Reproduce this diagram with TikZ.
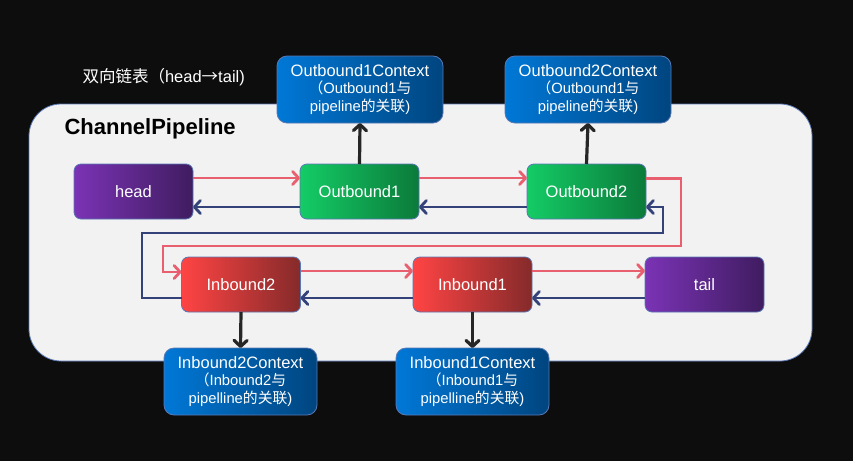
\documentclass[tikz,border=0pt]{standalone}
\usepackage{fontspec}
\setmainfont{Liberation Sans}
\newfontfamily\cjk{Noto Sans CJK SC}
\usetikzlibrary{arrows.meta}
\definecolor{bgdark}{HTML}{0D0D0D}
\definecolor{panel}{HTML}{F2F2F2}
\definecolor{edge}{HTML}{5A78B4}
\definecolor{purpL}{HTML}{7B33B5}
\definecolor{purpR}{HTML}{3F1C60}
\definecolor{grnL}{HTML}{14CC66}
\definecolor{grnR}{HTML}{0B7A3A}
\definecolor{redL}{HTML}{FF4444}
\definecolor{redR}{HTML}{852A2A}
\definecolor{bluL}{HTML}{0078D7}
\definecolor{bluR}{HTML}{00457F}
\definecolor{pinkline}{HTML}{E8606F}
\definecolor{navyline}{HTML}{34427A}
\definecolor{darkline}{HTML}{262626}
\newcommand{\zh}[1]{{\cjk #1}}
\tikzset{
  box/.style={draw=edge, line width=0.8pt, rounded corners=7pt, inner sep=0pt, outer sep=0pt,
    text=white, align=center, font=\fontsize{16.5}{18}\selectfont},
  pbox/.style={box, left color=purpL, right color=purpR, minimum width=119pt, minimum height=55pt},
  gbox/.style={box, left color=grnL, right color=grnR, minimum width=119pt, minimum height=55pt},
  rbox/.style={box, left color=redL, right color=redR, minimum width=119pt, minimum height=55pt},
  ctxbox/.style={box, left color=bluL, right color=bluR, minimum height=67pt, rounded corners=10pt},
  tip/.style={-{Straight Barb[length=6pt,width=13pt,line cap=round,line join=round]}},
  pinkarr/.style={tip, draw=pinkline, line width=2.8pt},
  navyarr/.style={tip, draw=navyline, line width=2.8pt},
  darkarr/.style={tip, draw=darkline, line width=3.2pt},
}
\newcommand{\ctx}[3]{\fontsize{16.5}{17.5}\selectfont #1\\[-1pt]\fontsize{14.8}{17.5}\selectfont\zh{（}#2\zh{与}\\\fontsize{14.8}{17.5}\selectfont #3\zh{的关联})}
\begin{document}
\begin{tikzpicture}[x=1pt,y=-1pt]
\fill[bgdark] (0,0) rectangle (853,461);
\useasboundingbox (0,0) rectangle (853,461);
\filldraw[fill=panel, draw=edge, line width=0.8pt, rounded corners=32pt] (29,104) rectangle (812,361);
\node[text=white, font=\fontsize{16.5}{18}\selectfont, anchor=west] (title) at (79,77) {\zh{双向链表（}head\zh{→}tail)};
\node[text=black, font=\fontsize{22}{24}\selectfont\bfseries, anchor=west] (cp) at (61,129) {ChannelPipeline};

\node[pbox] (head) at (133.5,191.5) {head};
\node[gbox] (ob1) at (359.5,191.5) {Outbound1};
\node[gbox] (ob2) at (586.5,191.5) {Outbound2};
\node[rbox] (ib2) at (241,284.5) {Inbound2};
\node[rbox] (ib1) at (472.5,284.5) {Inbound1};
\node[pbox] (tail) at (704.5,284.5) {tail};

\node[ctxbox, minimum width=166pt] (oc1) at (360,89.5) {\ctx{Outbound1Context}{Outbound1}{pipeline}};
\node[ctxbox, minimum width=166pt] (oc2) at (588,89.5) {\ctx{Outbound2Context}{Outbound1}{pipeline}};
\node[ctxbox, minimum width=153pt] (ic2) at (240.5,381.5) {\ctx{Inbound2Context}{Inbound2}{pipelline}};
\node[ctxbox, minimum width=153pt] (ic1) at (472.5,381.5) {\ctx{Inbound1Context}{Inbound1}{pipelline}};

\coordinate (pr) at (681,246);
\coordinate (pl) at (163,246);
\coordinate (bl) at (142,233);
\coordinate (br) at (663,233);

\draw[pinkarr] ([yshift=13.5pt]head.east) -- ([yshift=13.5pt]ob1.west);
\draw[pinkarr] ([yshift=13.5pt]ob1.east) -- ([yshift=13.5pt]ob2.west);
\draw[navyarr] ([yshift=-15.5pt]ob1.west) -- ([yshift=-15.5pt]head.east);
\draw[navyarr] ([yshift=-15.5pt]ob2.west) -- ([yshift=-15.5pt]ob1.east);
\draw[pinkarr] ([yshift=13pt]ob2.east) -| (pr) -- (pl) |- ([yshift=12.5pt]ib2.west);
\draw[navyarr] ([yshift=-13.5pt]ib2.west) -| (bl) -- (br) |- ([yshift=-15.5pt]ob2.east);
\draw[pinkarr] ([yshift=13.5pt]ib2.east) -- ([yshift=13.5pt]ib1.west);
\draw[pinkarr] ([yshift=13.5pt]ib1.east) -- ([yshift=13.5pt]tail.west);
\draw[navyarr] ([yshift=-13.5pt]ib1.west) -- ([yshift=-13.5pt]ib2.east);
\draw[navyarr] ([yshift=-13.5pt]tail.west) -- ([yshift=-13.5pt]ib1.east);

\draw[darkarr] (ob1.north) -- (oc1.south);
\draw[darkarr] (ob2.north) -- (oc2.south);
\draw[darkarr] (ib2.south) -- (ic2.north);
\draw[darkarr] (ib1.south) -- (ic1.north);
\end{tikzpicture}
\end{document}
